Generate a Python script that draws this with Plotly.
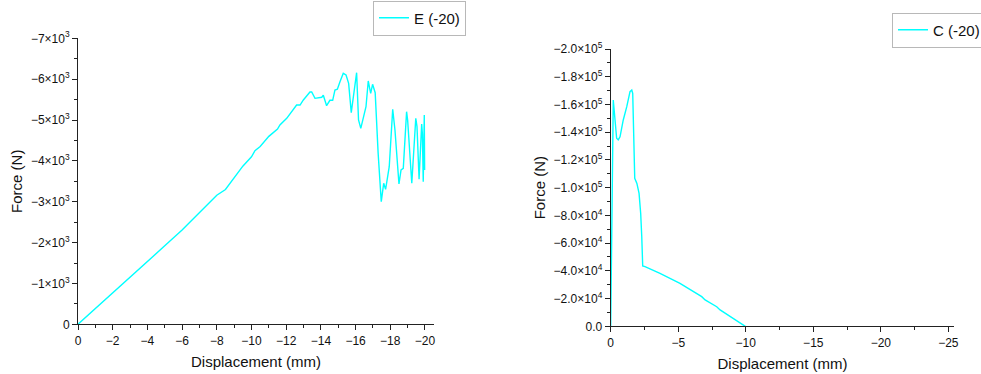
import plotly.graph_objects as go

# ---- Data: E (-20) ----
e_disp = [0, -1, -2, -3, -4, -5, -6, -7, -8, -8.5, -9, -9.5, -10, -10.2, -10.5, -11, -11.5,
          -11.64, -12.03, -12.41, -12.6, -12.8, -12.99, -13.37, -13.47, -13.66, -14.05, -14.14,
          -14.33, -14.52, -14.68, -14.81, -14.95, -15.1, -15.29, -15.45, -15.6, -15.75, -15.9,
          -16.06, -16.17, -16.3, -16.6, -16.73, -16.87, -16.98, -17.13, -17.3, -17.48, -17.62,
          -17.73, -17.94, -18.14, -18.27, -18.5, -18.62, -18.75, -18.94, -19.0, -19.24, -19.47,
          -19.54, -19.66, -19.81, -19.85, -19.9, -19.96, -19.98]
e_force = [0, -380, -760, -1150, -1530, -1920, -2310, -2730, -3160, -3300, -3600, -3870, -4100,
           -4250, -4350, -4600, -4780, -4878, -5042, -5245, -5367, -5367, -5490, -5686, -5686,
           -5531, -5556, -5605, -5351, -5482, -5482, -5735, -5752, -5938, -6143, -6102, -5898,
           -5180, -5653, -6159, -5000, -4797, -5326, -5955, -5653, -5874, -5669, -4185, -3001,
           -3451, -3304, -3857, -5262, -4756, -3434, -3777, -3818, -5204, -5000, -3451, -5042,
           -4837, -3549, -4903, -4666, -3491, -5123, -3777]

# ---- Data: C (-20) ----
c_disp = [0, -0.08, -0.19, -0.44, -0.56, -0.69, -0.93, -1.19, -1.43, -1.56, -1.63, -1.78, -1.94,
          -2.1, -2.22, -2.3, -2.37, -2.54, -3.65, -5.13, -6.74, -6.99, -7.85, -8.1, -9.97]
c_force = [0, -80000, -163200, -135600, -134400, -136700, -148800, -158400, -169200, -170400,
           -168000, -106700, -103100, -95900, -81500, -64600, -43500, -43000, -38200, -31000,
           -21400, -19000, -14100, -11800, 0]

# ---- Tick labels ----
e_xticks = [0, -2, -4, -6, -8, -10, -12, -14, -16, -18, -20]
e_xticktext = ["0", "−2", "−4", "−6", "−8", "−10", "−12", "−14", "−16", "−18", "−20"]
e_yticks = [0, -1000, -2000, -3000, -4000, -5000, -6000, -7000]
e_yticktext = ["0"] + ["−%d×10<sup>3</sup>" % k for k in range(1, 8)]

c_xticks = [0, -5, -10, -15, -20, -25]
c_xticktext = ["0", "−5", "−10", "−15", "−20", "−25"]
c_yticks = [0, -20000, -40000, -60000, -80000, -100000, -120000, -140000, -160000, -180000, -200000]
c_yticktext = ["0.0", "−2.0×10<sup>4</sup>", "−4.0×10<sup>4</sup>", "−6.0×10<sup>4</sup>",
               "−8.0×10<sup>4</sup>", "−1.0×10<sup>5</sup>", "−1.2×10<sup>5</sup>",
               "−1.4×10<sup>5</sup>", "−1.6×10<sup>5</sup>", "−1.8×10<sup>5</sup>",
               "−2.0×10<sup>5</sup>"]

W, H = 981, 374
LINE = "#00FFFF"
AX = "#222222"
FONT = "Liberation Sans, Arial, sans-serif"

fig = go.Figure()
fig.add_trace(go.Scatter(x=e_disp, y=e_force, mode="lines", name="E (-20)",
                         line=dict(color=LINE, width=1.4), xaxis="x", yaxis="y",
                         legend="legend"))
fig.add_trace(go.Scatter(x=c_disp, y=c_force, mode="lines", name="C (-20)",
                         line=dict(color=LINE, width=1.4), xaxis="x2", yaxis="y2",
                         legend="legend2"))

common = dict(showgrid=False, zeroline=False, showline=True, linecolor=AX, linewidth=1,
              ticks="outside", ticklen=5, tickwidth=1, tickcolor=AX,
              tickfont=dict(size=12, color="#111111", family=FONT))

fig.update_layout(
    width=W, height=H,
    margin=dict(l=0, r=0, t=0, b=0, autoexpand=False),
    paper_bgcolor="white", plot_bgcolor="white",
    font=dict(family=FONT, color="#111111"),
    xaxis=dict(domain=[78 / W, 434 / W], range=[0, -20.52], anchor="y",
               tickmode="array", tickvals=e_xticks, ticktext=e_xticktext,
               minor=dict(tickmode="array", tickvals=[-1, -3, -5, -7, -9, -11, -13, -15, -17, -19],
                          ticks="outside", ticklen=3, tickcolor=AX),
               title=dict(text="Displacement (mm)", font=dict(size=15), standoff=9), **common),
    yaxis=dict(domain=[(H - 324.3) / H, (H - 38.3) / H], range=[0, -7000], anchor="x",
               tickmode="array", tickvals=e_yticks, ticktext=e_yticktext,
               minor=dict(tickmode="array", tickvals=[-500, -1500, -2500, -3500, -4500, -5500, -6500],
                          ticks="outside", ticklen=3, tickcolor=AX),
               title=dict(text="Force (N)", font=dict(size=15), standoff=4), **common),
    xaxis2=dict(domain=[610.7 / W, 954.3 / W], range=[0, -25.44], anchor="y2",
                tickmode="array", tickvals=c_xticks, ticktext=c_xticktext,
                minor=dict(tickmode="array", tickvals=[-2.5, -7.5, -12.5, -17.5, -22.5],
                           ticks="outside", ticklen=3, tickcolor=AX),
                title=dict(text="Displacement (mm)", font=dict(size=15), standoff=9), **common),
    yaxis2=dict(domain=[(H - 326.3) / H, (H - 49) / H], range=[0, -200000], anchor="x2",
                tickmode="array", tickvals=c_yticks, ticktext=c_yticktext,
                minor=dict(tickmode="array",
                           tickvals=[-10000, -30000, -50000, -70000, -90000, -110000, -130000,
                                     -150000, -170000, -190000],
                           ticks="outside", ticklen=3, tickcolor=AX),
                title=dict(text="Force (N)", font=dict(size=15), standoff=4), **common),
    legend=dict(x=373 / W, y=1 - 18 / H, xanchor="left", yanchor="middle",
                bordercolor="#b8b8b8", borderwidth=1, bgcolor="white",
                font=dict(size=15, family=FONT), itemwidth=30, tracegroupgap=0),
    legend2=dict(x=892 / W, y=1 - 30 / H, xanchor="left", yanchor="middle",
                 bordercolor="#b8b8b8", borderwidth=1, bgcolor="white",
                 font=dict(size=15, family=FONT), itemwidth=30, tracegroupgap=0),
    showlegend=True,
)

fig.write_html("out.html", config={"displayModeBar": False},
               post_script="document.body.style.margin='0';document.body.style.overflow='hidden';")
